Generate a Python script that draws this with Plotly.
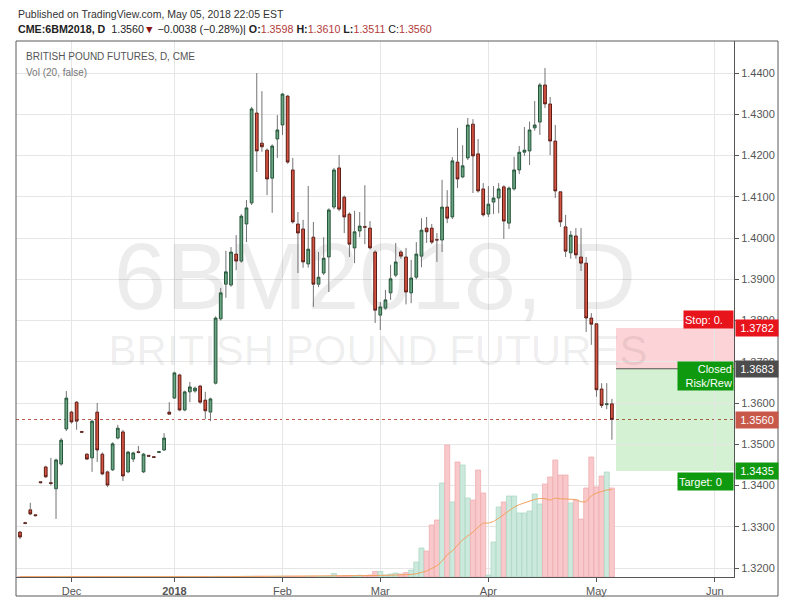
import plotly.graph_objects as go
import pandas as pd

# ---------------- data ----------------
opens = [
    1.3287, 1.3310, 1.3341, 1.3329, 1.3409, 1.3445, 1.3407, 1.3392, 1.3452, 1.3537,
    1.3578, 1.3602, 1.3531, 1.3476, 1.3467, 1.3578, 1.3476, 1.3433, 1.3438, 1.3515,
    1.3530, 1.3433, 1.3464, 1.3482, 1.3433, 1.3473, 1.3470, 1.3480, 1.3486, 1.3578,
    1.3612, 1.3668, 1.3583, 1.3627, 1.3629, 1.3641, 1.3607, 1.3578, 1.3648, 1.3804,
    1.3888, 1.3886, 1.3961, 1.3944, 1.4034, 1.4085, 1.4303, 1.4230, 1.4213, 1.4145,
    1.4240, 1.4274, 1.4344, 1.4165, 1.4034, 1.4022, 1.3937, 1.4002, 1.3888, 1.3915,
    1.3954, 1.4075, 1.4170, 1.4099, 1.4058, 1.3976, 1.4017, 1.4028, 1.4024, 1.3966,
    1.3813, 1.3830, 1.3867, 1.3910, 1.3966, 1.3954, 1.3867, 1.3905, 1.3956, 1.4024,
    1.4024, 1.3996, 1.3995, 1.4075, 1.4051, 1.4184, 1.4148, 1.4194, 1.4276, 1.4204,
    1.4119, 1.4058, 1.4087, 1.4097, 1.4124, 1.4036, 1.4119, 1.4165, 1.4208, 1.4211,
    1.4267, 1.4281, 1.4371, 1.4325, 1.4235, 1.4112, 1.4027, 1.3964, 1.4005, 1.3954,
    1.3939, 1.3806, 1.3792, 1.3634, 1.3596, 1.3598,
]
highs = [
    1.3290, 1.3312, 1.3358, 1.3330, 1.3410, 1.3448, 1.3467, 1.3465, 1.3515, 1.3629,
    1.3581, 1.3605, 1.3532, 1.3478, 1.3560, 1.3600, 1.3480, 1.3436, 1.3505, 1.3547,
    1.3535, 1.3484, 1.3482, 1.3496, 1.3479, 1.3474, 1.3471, 1.3483, 1.3527, 1.3602,
    1.3676, 1.3671, 1.3630, 1.3651, 1.3640, 1.3644, 1.3627, 1.3613, 1.3810, 1.3879,
    1.3969, 1.3978, 1.4007, 1.4058, 1.4092, 1.4318, 1.4400, 1.4356, 1.4217, 1.4227,
    1.4298, 1.4351, 1.4347, 1.4194, 1.4063, 1.4044, 1.4126, 1.4039, 1.3966, 1.4002,
    1.4072, 1.4170, 1.4201, 1.4103, 1.4062, 1.4066, 1.4063, 1.4128, 1.4041, 1.3970,
    1.3845, 1.3874, 1.3935, 1.3988, 1.3970, 1.3976, 1.3947, 1.3990, 1.4048, 1.4051,
    1.4034, 1.4012, 1.4141, 1.4116, 1.4196, 1.4267, 1.4225, 1.4291, 1.4288, 1.4240,
    1.4133, 1.4126, 1.4126, 1.4133, 1.4128, 1.4125, 1.4197, 1.4223, 1.4269, 1.4282,
    1.4332, 1.4376, 1.4412, 1.4342, 1.4274, 1.4114, 1.4056, 1.4017, 1.4024, 1.4024,
    1.3954, 1.3818, 1.3794, 1.3648, 1.3648, 1.3610,
]
lows = [
    1.3270, 1.3306, 1.3328, 1.3325, 1.3405, 1.3418, 1.3400, 1.3319, 1.3448, 1.3532,
    1.3550, 1.3535, 1.3527, 1.3462, 1.3433, 1.3457, 1.3425, 1.3396, 1.3435, 1.3512,
    1.3411, 1.3430, 1.3457, 1.3478, 1.3430, 1.3470, 1.3467, 1.3479, 1.3484, 1.3571,
    1.3610, 1.3580, 1.3580, 1.3602, 1.3625, 1.3598, 1.3561, 1.3556, 1.3645, 1.3800,
    1.3855, 1.3882, 1.3922, 1.3940, 1.3990, 1.4080, 1.4160, 1.4209, 1.4104, 1.4061,
    1.4194, 1.4250, 1.4180, 1.4035, 1.3915, 1.3928, 1.3928, 1.3833, 1.3881, 1.3910,
    1.3869, 1.4070, 1.4065, 1.4012, 1.3954, 1.3939, 1.4002, 1.3985, 1.3972, 1.3794,
    1.3777, 1.3826, 1.3850, 1.3905, 1.3950, 1.3839, 1.3842, 1.3900, 1.3929, 1.3988,
    1.3985, 1.3942, 1.3966, 1.4036, 1.4046, 1.4121, 1.4145, 1.4189, 1.4109, 1.4110,
    1.4052, 1.4051, 1.4058, 1.4060, 1.3998, 1.4022, 1.4115, 1.4155, 1.4199, 1.4177,
    1.4260, 1.4250, 1.4315, 1.4201, 1.4097, 1.4027, 1.3954, 1.3950, 1.3950, 1.3920,
    1.3772, 1.3741, 1.3615, 1.3588, 1.3585, 1.3511,
]
closes = [
    1.3275, 1.3308, 1.3331, 1.3327, 1.3407, 1.3421, 1.3405, 1.3462, 1.3510, 1.3612,
    1.3554, 1.3556, 1.3529, 1.3464, 1.3556, 1.3486, 1.3428, 1.3401, 1.3501, 1.3539,
    1.3423, 1.3481, 1.3479, 1.3480, 1.3476, 1.3471, 1.3468, 1.3482, 1.3515, 1.3573,
    1.3673, 1.3583, 1.3627, 1.3639, 1.3636, 1.3602, 1.3581, 1.3610, 1.3806, 1.3867,
    1.3918, 1.3966, 1.3944, 1.4053, 1.4073, 1.4313, 1.4211, 1.4221, 1.4143, 1.4223,
    1.4262, 1.4349, 1.4184, 1.4039, 1.4012, 1.3942, 1.3973, 1.3888, 1.3905, 1.3951,
    1.4068, 1.4165, 1.4070, 1.4051, 1.3985, 1.4015, 1.4029, 1.4026, 1.3976, 1.3825,
    1.3833, 1.3850, 1.3901, 1.3942, 1.3956, 1.3869, 1.3903, 1.3961, 1.4019, 1.4015,
    1.3990, 1.3995, 1.4075, 1.4048, 1.4187, 1.4143, 1.4175, 1.4274, 1.4199, 1.4114,
    1.4056, 1.4082, 1.4097, 1.4119, 1.4041, 1.4121, 1.4165, 1.4208, 1.4213, 1.4262,
    1.4274, 1.4371, 1.4325, 1.4235, 1.4114, 1.4039, 1.3968, 1.4007, 1.3959, 1.3939,
    1.3806, 1.3791, 1.3632, 1.3594, 1.3598, 1.3560,
]
volumes = [
    420, 380, 510, 290, 460, 350, 600, 480, 390, 530,
    610, 440, 370, 520, 480, 560, 430, 390, 610, 470,
    520, 380, 300, 260, 340, 180, 150, 210, 330, 410,
    560, 620, 540, 480, 430, 590, 510, 470, 720, 810,
    690, 640, 580, 700, 760, 830, 900, 740, 660, 610,
    700, 780, 850, 720, 690, 640, 810, 760, 700, 880,
    940, 4200, 1000, 1400, 1800, 1200, 2200, 1800, 2400, 6600,
    6600, 2400, 3600, 4800, 3600, 5400, 8400, 18000, 34800, 31200,
    62400, 68400, 112800, 158400, 90000, 138000, 134400, 94800, 92400, 128400,
    100800, 2400, 42000, 84000, 90000, 97200, 97200, 76800, 76800, 79200,
    99600, 87600, 111600, 120000, 140400, 122400, 122400, 88800, 92400, 69600,
    106800, 144000, 108000, 121200, 126000, 106800,
]
holidays = ["2017-12-25", "2018-01-01", "2018-01-15", "2018-02-19", "2018-03-30"]
month_labels = ["Dec", "<b>2018</b>", "Feb", "Mar", "Apr", "May", "Jun"]

# position tool (short) levels
stop_price = 1.3782
entry_price = 1.3683
target_price = 1.3435

n = len(closes)
assert len(opens) == n == len(highs) == len(lows) == len(volumes)

dates = [d for d in pd.bdate_range("2017-11-17", "2018-05-04") if d.strftime("%Y-%m-%d") not in holidays]
assert len(dates) == n
idx = list(range(n))

# tick positions: first bar of each month (+ future June)
tickvals = []
prev_m = None
for i, d in enumerate(dates):
    if d.month != prev_m and i > 0:
        tickvals.append(i)
    prev_m = d.month
future = pd.bdate_range("2018-05-07", "2018-05-31")
tickvals.append(n - 1 + len(future) + 1)

# ---------------- geometry (reference pixel coordinates) ----------------
OFF = 8  # browser default body margin
W, H = 791, 613
PL, PR, PT, PB = 16, 734, 41, 577
X0PX, XSTEP = 20.0, 5.147
x_range = [(PL - X0PX) / XSTEP, (PR - X0PX) / XSTEP]
P_REF, Y_REF, PPX = 1.44, 73.0, 4125.0
y2_range = [P_REF - (PB - Y_REF) / PPX, P_REF + (Y_REF - PT) / PPX]
VOL_TOP = 643200.0  # volume axis full-height value


def py(ypx):  # pixel -> paper y
    return (PB - ypx) / (PB - PT)


def px(xpx):  # pixel -> paper x
    return (xpx - PL) / (PR - PL)


def xi(xpx):  # pixel -> bar index
    return (xpx - X0PX) / XSTEP


up = [c >= o for o, c in zip(opens, closes)]

GREEN_F, GREEN_L = "#6ba583", "#225437"
RED_F, RED_L = "#d75442", "#5b1a13"
WICK = "#737375"
GRID = "#e6e6e6"
AXC = "#555555"
FONT = "Liberation Sans"

fig = go.Figure()

# watermark (behind everything, on base axis)
fig.add_trace(go.Scatter(
    x=[xi(375)], y=[py(285) * VOL_TOP], mode="text", text=["6BM2018, D"],
    textfont=dict(family=FONT, size=94, color="rgba(0,0,0,0.075)"),
    hoverinfo="skip", showlegend=False, cliponaxis=False, yaxis="y"))
fig.add_trace(go.Scatter(
    x=[xi(378)], y=[py(354) * VOL_TOP], mode="text", text=["BRITISH POUND FUTURES"],
    textfont=dict(family=FONT, size=42, color="rgba(0,0,0,0.075)"),
    hoverinfo="skip", showlegend=False, cliponaxis=False, yaxis="y"))

# volume bars
fig.add_trace(go.Bar(
    x=idx, y=volumes, yaxis="y",
    marker=dict(color=["#cbe9dc" if u else "#f8c8cb" for u in up],
                line=dict(color=["#a9d6c1" if u else "#eeaaae" for u in up], width=0.7)),
    hoverinfo="skip", showlegend=False))
vol_ma = pd.Series(volumes).rolling(20, min_periods=1).mean().tolist()
fig.add_trace(go.Scatter(x=idx, y=vol_ma, yaxis="y", mode="lines",
                         line=dict(color="#f2a25f", width=1), hoverinfo="skip", showlegend=False))

# wicks (upper and lower parts, drawn from the data)
wx, wy = [], []
for i in idx:
    top = max(opens[i], closes[i])
    bot = min(opens[i], closes[i])
    wx += [i, i, None, i, i, None]
    wy += [highs[i], top, None, bot, lows[i], None]
fig.add_trace(go.Scatter(x=wx, y=wy, yaxis="y2", mode="lines",
                         line=dict(color=WICK, width=1), hoverinfo="skip", showlegend=False))

# candle bodies
fig.add_trace(go.Candlestick(
    x=idx, open=opens, close=closes,
    high=[max(o, c) for o, c in zip(opens, closes)],
    low=[min(o, c) for o, c in zip(opens, closes)],
    yaxis="y2",
    increasing=dict(fillcolor=GREEN_F, line=dict(color=GREEN_L, width=1)),
    decreasing=dict(fillcolor=RED_F, line=dict(color=RED_L, width=1)),
    whiskerwidth=0, hoverinfo="skip", showlegend=False))

last_close = closes[-1]
prev_close = closes[-2]
chg = last_close - prev_close

shapes = []
# last price dotted line
shapes.append(dict(type="line", xref="paper", yref="y2", x0=0, x1=1, y0=last_close, y1=last_close,
                   line=dict(color="#c0564a", width=1, dash="dot"), layer="below"))
# position tool
pos_x0 = n - 1 + 0.8
shapes.append(dict(type="rect", xref="x", yref="y2", x0=pos_x0, x1=x_range[1], y0=entry_price, y1=stop_price,
                   fillcolor="rgba(242,54,69,0.22)", line=dict(width=0), layer="below"))
shapes.append(dict(type="rect", xref="x", yref="y2", x0=pos_x0, x1=x_range[1], y0=target_price, y1=entry_price,
                   fillcolor="rgba(0,170,0,0.17)", line=dict(width=0), layer="below"))
shapes.append(dict(type="line", xref="x", yref="y2", x0=pos_x0, x1=x_range[1], y0=entry_price, y1=entry_price,
                   line=dict(color="#555555", width=1)))
# outer frame
shapes.append(dict(type="rect", xref="paper", yref="paper", x0=0, x1=px(778), y0=py(596), y1=1,
                   line=dict(color="#5a5a5a", width=1), fillcolor="rgba(0,0,0,0)"))

ann = []
red_val = "#b23a3a"
ann.append(dict(xref="paper", yref="paper", x=px(16), y=py(14), xanchor="left", yanchor="middle",
                text="Published on TradingView.com, May 05, 2018 22:05 EST", showarrow=False,
                font=dict(family=FONT, size=10.5, color="#333333")))
hdr = (f"<b>CME:6BM2018, D</b>  {last_close:.4f}<span style='color:#8b1010'>▼</span> "
       f"{'−' if chg < 0 else '+'}{abs(chg):.4f} ({'−' if chg < 0 else '+'}{abs(chg) / prev_close * 100:.2f}%)| "
       f"<b>O:</b><span style='color:{red_val}'>{opens[-1]:.4f}</span> "
       f"<b>H:</b><span style='color:{red_val}'>{highs[-1]:.4f}</span> "
       f"<b>L:</b><span style='color:{red_val}'>{lows[-1]:.4f}</span> "
       f"C:<span style='color:{red_val}'>{last_close:.4f}</span>")
ann.append(dict(xref="paper", yref="paper", x=px(16), y=py(29), xanchor="left", yanchor="middle",
                text=hdr, showarrow=False, font=dict(family=FONT, size=10.7, color="#222222")))
ann.append(dict(xref="paper", yref="paper", x=px(24), y=py(56), xanchor="left", yanchor="middle",
                text="BRITISH POUND FUTURES, D, CME", showarrow=False,
                font=dict(family=FONT, size=10, color="#555555")))
ann.append(dict(xref="paper", yref="paper", x=px(24), y=py(72), xanchor="left", yanchor="middle",
                text="Vol (20, false)", showarrow=False,
                font=dict(family=FONT, size=10, color="#777777")))

# price labels on the axis
for price, bg in [(stop_price, "#e8141c"), (entry_price, "#4d4d4d"),
                  (last_close, "#c8594a"), (target_price, "#119a11")]:
    ann.append(dict(xref="paper", yref="y2", x=1.0, y=price, xanchor="left", yanchor="middle",
                    xshift=1, text=f"{price:.4f}", showarrow=False, bgcolor=bg, width=40, height=14,
                    font=dict(family=FONT, size=11, color="white")))
# position tool labels (cut by the price axis)
ann.append(dict(xref="paper", yref="paper", x=1.0, y=py(320), xanchor="right", yanchor="middle",
                text="Stop: 0.", showarrow=False, bgcolor="#e8141c", width=47, height=15, align="left",
                font=dict(family=FONT, size=11, color="white")))
ann.append(dict(xref="paper", yref="paper", x=1.0, y=py(376), xanchor="right", yanchor="middle",
                text="Closed<br>Risk/Rew", showarrow=False, bgcolor="#0e990e", width=53, height=26,
                align="right", font=dict(family=FONT, size=11, color="white")))
ann.append(dict(xref="paper", yref="paper", x=1.0, y=py(481), xanchor="right", yanchor="middle",
                text="Target: 0", showarrow=False, bgcolor="#0e990e", width=53, height=15, align="left",
                font=dict(family=FONT, size=11, color="white")))

fig.update_layout(
    width=W - OFF, height=H - OFF, autosize=False,
    margin=dict(l=PL - OFF, r=W - PR, t=PT - OFF, b=H - PB, pad=0),
    paper_bgcolor="white", plot_bgcolor="white",
    showlegend=False, hovermode=False, boxgap=0.25, bargap=0.02,
    xaxis=dict(range=x_range, tickvals=tickvals, ticktext=month_labels, showgrid=True,
               gridcolor=GRID, gridwidth=1, ticks="outside", ticklen=4, tickcolor=AXC,
               showline=True, linecolor=AXC, linewidth=1, zeroline=False,
               rangeslider=dict(visible=False),
               tickfont=dict(family=FONT, size=11, color="#555555")),
    yaxis=dict(range=[0, VOL_TOP], visible=False, showgrid=False, zeroline=False, fixedrange=True),
    yaxis2=dict(range=y2_range, overlaying="y", side="right", anchor="x", dtick=0.01, tick0=1.32,
                tickformat=".4f", showgrid=True, gridcolor=GRID, ticks="outside", ticklen=4,
                tickcolor=AXC, showline=True, linecolor=AXC, linewidth=1, zeroline=False,
                tickfont=dict(family=FONT, size=11, color="#555555")),
    shapes=shapes, annotations=ann,
)

fig.write_html("out.html")
